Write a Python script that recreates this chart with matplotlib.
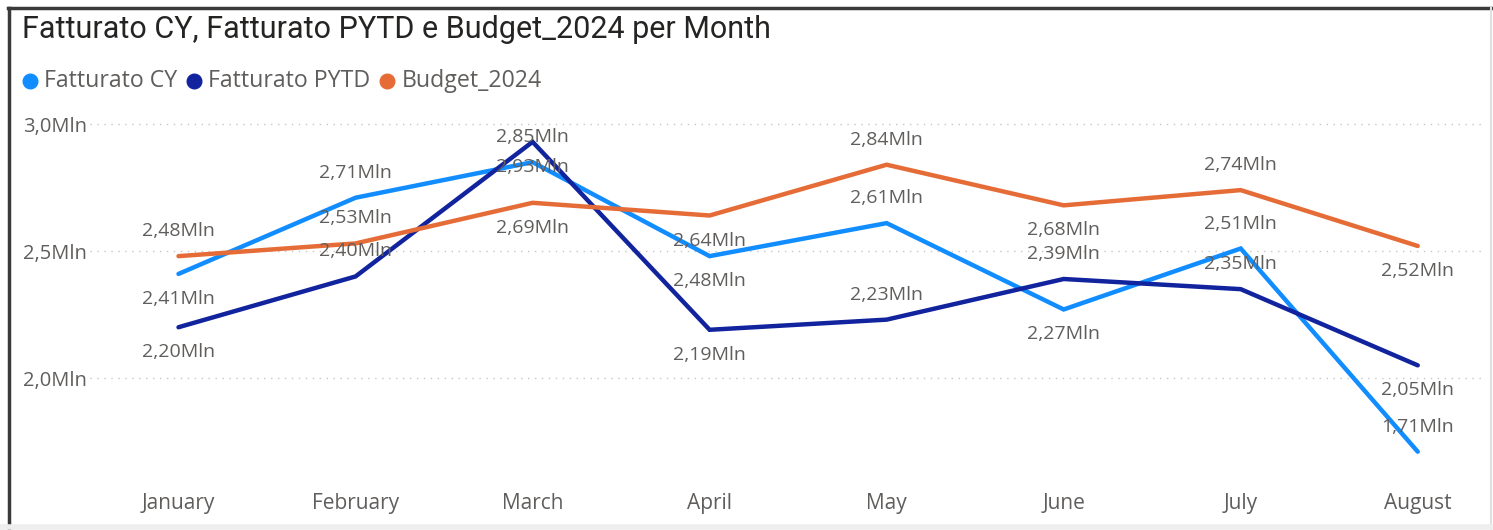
import matplotlib.pyplot as plt
from matplotlib.lines import Line2D

months = ["January", "February", "March", "April", "May", "June", "July", "August"]
fatturato_cy = [2.41, 2.71, 2.85, 2.48, 2.61, 2.27, 2.51, 1.71]
fatturato_pytd = [2.20, 2.40, 2.93, 2.19, 2.23, 2.39, 2.35, 2.05]
budget_2024 = [2.48, 2.53, 2.69, 2.64, 2.84, 2.68, 2.74, 2.52]
yticks = [2.0, 2.5, 3.0]

# where each data label sits: +1 above the point, -1 below
cy_pos = [-1, 1, 1, -1, 1, -1, 1, 1]
pytd_pos = [-1, 1, -1, -1, 1, 1, 1, -1]
budget_pos = [1, 1, -1, -1, 1, -1, 1, -1]

series = [
    ("Fatturato CY", fatturato_cy, "#118DFF", cy_pos),
    ("Fatturato PYTD", fatturato_pytd, "#12239E", pytd_pos),
    ("Budget_2024", budget_2024, "#E66C37", budget_pos),
]

plt.rcParams['font.family'] = ['Open Sans', 'DejaVu Sans']
label_color = "#605E5C"

W, H = 1493, 530
fig = plt.figure(figsize=(W / 100, H / 100), dpi=100)
fig.patch.set_facecolor("white")

# axes placement in pixels
left, right, top, bottom = 90, 1485, 119, 472
ax = fig.add_axes([left / W, 1 - bottom / H, (right - left) / W, (bottom - top) / H])

x = list(range(len(months)))
for name, vals, color, pos in series:
    ax.plot(x, vals, color=color, lw=3.2, solid_capstyle="round", solid_joinstyle="miter")
for name, vals, color, pos in series:
    for xi, v, p in zip(x, vals, pos):
        ax.annotate(f"{v:.2f}".replace(".", ",") + "Mln", (xi, v),
                    xytext=(0, 18 * p), textcoords="offset points",
                    ha="center", va="center", fontsize=14, color=label_color)

ax.set_xlim(-0.5, 7.38)
ax.set_ylim(1.63, 3.02)
ax.set_yticks(yticks)
ax.set_yticklabels([f"{t:.1f}".replace(".", ",") + "Mln" for t in yticks])
ax.set_xticks(x)
ax.set_xticklabels(months)
ax.tick_params(axis="both", length=0, labelcolor=label_color)
ax.tick_params(axis="x", pad=15, labelsize=15)
ax.tick_params(axis="y", pad=2, labelsize=14.5)
ax.grid(axis="y", color="#C8C6C4", linestyle=(0, (1, 4)), lw=1)
for s in ax.spines.values():
    s.set_visible(False)
ax.set_facecolor("none")

fig.text(22 / W, 1 - 29 / H, "Fatturato CY, Fatturato PYTD e Budget_2024 per Month",
         fontsize=22, color="#252423", va="center", ha="left",
         family=["Roboto", "DejaVu Sans"])

# legend drawn by hand: dot then name, one after another
fig.canvas.draw()
renderer = fig.canvas.get_renderer()
lx = 30
ly = 1 - 81 / H
for name, vals, color, pos in series:
    fig.add_artist(Line2D([lx / W], [ly], marker="o", ls="none", color=color, markersize=10.5))
    t = fig.text((lx + 14) / W, ly, name, fontsize=16.7, color=label_color,
                 va="center", ha="left")
    bb = t.get_window_extent(renderer)
    lx = bb.x1 + 17

# frame around the visual
fig.add_artist(Line2D([8 / W, 1], [1 - 8 / H, 1 - 8 / H], color="#3a3a3a", lw=2.5))
fig.add_artist(Line2D([9 / W, 9 / W], [0, 1 - 8 / H], color="#3a3a3a", lw=2.5))
fig.add_artist(Line2D([1491 / W, 1491 / W], [0, 1 - 8 / H], color="#E0E0E0", lw=1.5))
fig.add_artist(Line2D([0, 1], [3 / H, 3 / H], color="#EEEEEE", lw=4))

fig.savefig("out.png", dpi=100)
